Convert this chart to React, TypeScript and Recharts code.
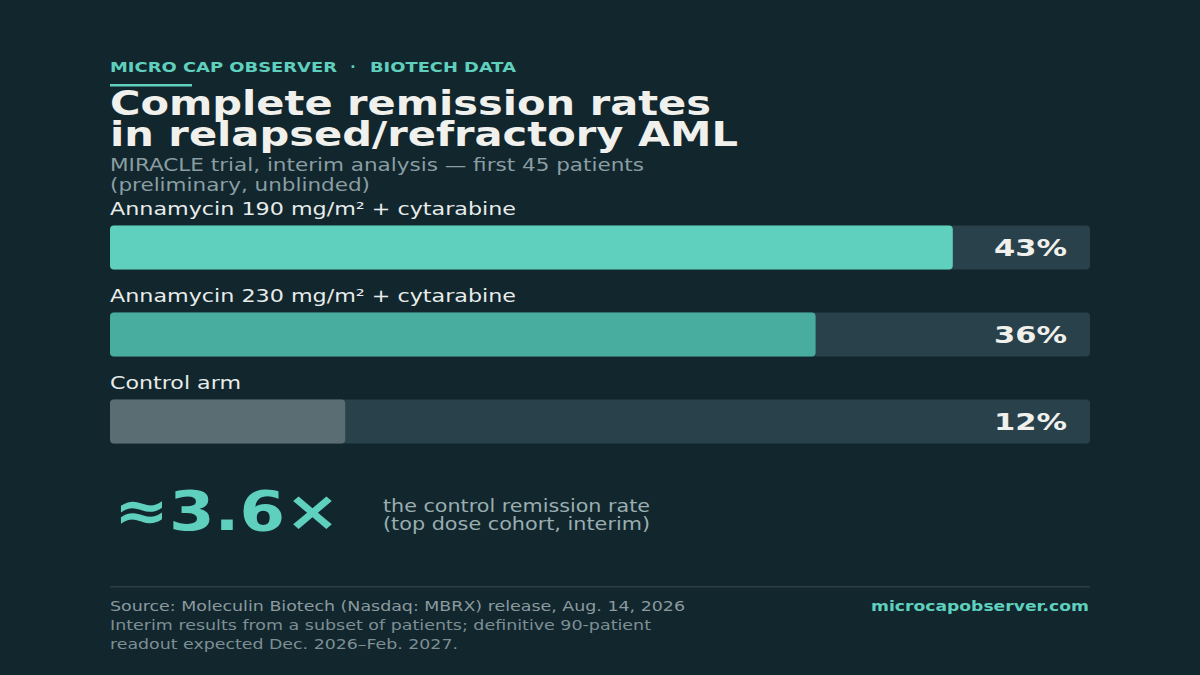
import React from "react";
import { BarChart, Bar, XAxis, YAxis, LabelList, Cell } from "recharts";

const cohorts = [
  "Annamycin 190 mg/m² + cytarabine",
  "Annamycin 230 mg/m² + cytarabine",
  "Control arm",
];
const remissionRates = [43, 36, 12];
const barColors = ["#5fd0bd", "#48ad9f", "#5a6d72"];
// widths the labels take in the reference (text is drawn wide)
const nameWidths = [406, 406, 131];

const data = cohorts.map((name, i) => ({ name, rate: remissionRates[i], w: nameWidths[i] }));

const BG = "#12262e";
const TRACK = "#29414a";
const FONT = "DejaVu Sans, sans-serif";
const WIDE = "spacingAndGlyphs";

const NameLabel = (props: any) => {
  const { y, value, index } = props;
  return (
    <text
      x={110}
      y={Number(y) - 11}
      fill="#e8ecea"
      fontSize={17}
      fontFamily={FONT}
      textLength={nameWidths[index]}
      lengthAdjust={WIDE}
    >
      {value}
    </text>
  );
};

const ValueLabel = (props: any) => {
  const { y, height, value } = props;
  return (
    <text
      x={1067}
      y={Number(y) + Number(height) / 2 + 8}
      textAnchor="end"
      fill="#f0f0ec"
      fontSize={23}
      fontWeight="bold"
      fontFamily={FONT}
      textLength={73}
      lengthAdjust={WIDE}
    >
      {value}%
    </text>
  );
};

export default function App() {
  return (
    <div style={{ position: "absolute", left: 0, top: 0, width: 1200, height: 675, background: BG, overflow: "hidden" }}>
      <BarChart
        width={1200}
        height={675}
        data={data}
        layout="vertical"
        margin={{ top: 203.5, right: 110, bottom: 210.5, left: 110 }}
      >
        <XAxis type="number" domain={[0, 50]} hide />
        <YAxis type="category" dataKey="name" hide />
        <Bar
          dataKey="rate"
          barSize={44}
          radius={4}
          background={{ fill: TRACK, radius: 4 }}
          isAnimationActive={false}
        >
          {data.map((d, i) => (
            <Cell key={d.name} fill={barColors[i]} />
          ))}
          <LabelList dataKey="name" content={NameLabel} />
          <LabelList dataKey="rate" content={ValueLabel} />
        </Bar>
      </BarChart>
      <svg width={1200} height={675} style={{ position: "absolute", left: 0, top: 0, pointerEvents: "none" }} fontFamily={FONT}>
        <g fill="#5fd0bd" fontSize={14} fontWeight="bold">
          <text x={110} y={72} textLength={227} lengthAdjust={WIDE}>MICRO CAP OBSERVER</text>
          <text x={353} y={72} textAnchor="middle">·</text>
          <text x={370} y={72} textLength={146} lengthAdjust={WIDE}>BIOTECH DATA</text>
        </g>
        <rect x={110} y={84} width={82} height={2.5} fill="#5fd0bd" />
        <text x={110} y={115} fill="#f0f0ec" fontSize={34} fontWeight="bold" textLength={601} lengthAdjust={WIDE}>
          Complete remission rates
        </text>
        <text x={110} y={146} fill="#f0f0ec" fontSize={34} fontWeight="bold" textLength={628} lengthAdjust={WIDE}>
          in relapsed/refractory AML
        </text>
        <text x={110} y={171} fill="#8a9ea2" fontSize={17} textLength={534} lengthAdjust={WIDE}>
          MIRACLE trial, interim analysis — first 45 patients
        </text>
        <text x={110} y={191} fill="#8a9ea2" fontSize={17} textLength={260} lengthAdjust={WIDE}>
          (preliminary, unblinded)
        </text>
        <text x={114} y={530} fill="#5fd0bd" fontSize={56} fontWeight="bold" textLength={226} lengthAdjust={WIDE}>
          ≈3.6×
        </text>
        <text x={383} y={512} fill="#9aaeb0" fontSize={17} textLength={267} lengthAdjust={WIDE}>
          the control remission rate
        </text>
        <text x={383} y={530} fill="#9aaeb0" fontSize={17} textLength={267} lengthAdjust={WIDE}>
          (top dose cohort, interim)
        </text>
        <rect x={110} y={586} width={980} height={1.5} fill="#2a3e44" />
        <text x={110} y={611} fill="#8a9a9e" fontSize={14} textLength={575} lengthAdjust={WIDE}>
          Source: Moleculin Biotech (Nasdaq: MBRX) release, Aug. 14, 2026
        </text>
        <text x={110} y={630} fill="#7d8f93" fontSize={14} textLength={541} lengthAdjust={WIDE}>
          Interim results from a subset of patients; definitive 90-patient
        </text>
        <text x={110} y={649} fill="#7d8f93" fontSize={14} textLength={348} lengthAdjust={WIDE}>
          readout expected Dec. 2026–Feb. 2027.
        </text>
        <text x={871} y={611} fill="#5fd0bd" fontSize={14} fontWeight="bold" textLength={218} lengthAdjust={WIDE}>
          microcapobserver.com
        </text>
      </svg>
    </div>
  );
}
